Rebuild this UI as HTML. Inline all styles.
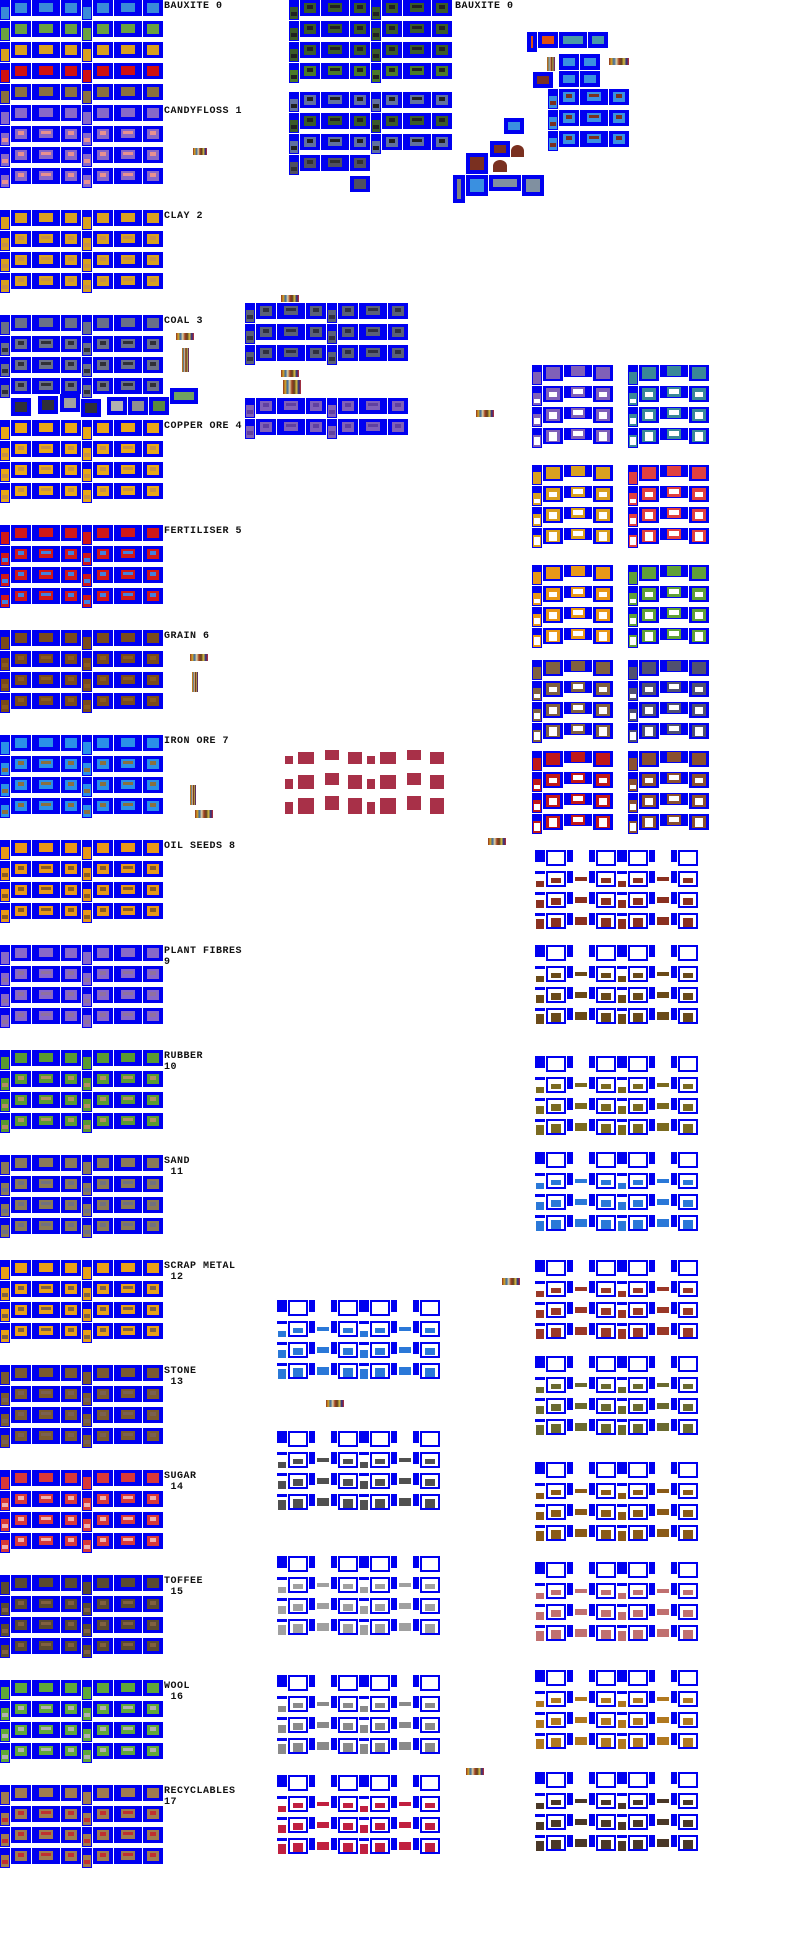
<!DOCTYPE html>
<html><head><meta charset="utf-8">
<style>
html,body{margin:0;padding:0;background:#fff;}
#sheet{position:relative;width:800px;height:1950px;overflow:hidden;background:#fff;}
.t{position:absolute;background:#0000f0;}
.c{position:absolute;}
.lbl{position:absolute;font-family:"Liberation Mono",monospace;font-size:10px;font-weight:bold;line-height:11px;color:#111;letter-spacing:0.5px;white-space:pre;}
</style></head>
<body>
<div id="sheet"></div>
<script>
// ---- data ----
const sectionNames = ["BAUXITE 0","CANDYFLOSS 1","CLAY 2","COAL 3","COPPER ORE 4","FERTILISER 5","GRAIN 6","IRON ORE 7","OIL SEEDS 8","PLANT FIBRES\n9","RUBBER\n10","SAND\n 11","SCRAP METAL\n 12","STONE\n 13","SUGAR\n 14","TOFFEE\n 15","WOOL\n 16","RECYCLABLES\n17"];
const sectionColors = ["#3a8ad8","#8868c8","#d8a020","#6a7088","#e8a818","#d01818","#7a4a1a","#2a90e8","#e89818","#8868c8","#5a9a30","#8a7a58","#e8a018","#7a5a30","#d83838","#5a4a30","#60a838","#a07c50"];
const sectionFill = ["#3a8ad8","#e89090","#c89040","#303038","#c89040","#4080e0","#8a5a20","#8a7040","#8a5a20","#9070a0","#b09060","#707080","#806040","#7a6050","#f0b0b0","#806040","#b0b0b0","#c03030"];
const bauxiteRowColors = ["#3a8ad8","#6aa040","#d8a020","#d01010","#8a7040"];
const upperRightColors = [["#8060b8","#3a8898"],["#d8a020","#e04040"],["#e89818","#60a038"],["#806040","#505070"],["#c01818","#8a5030"]];
const upperRightY = [365,465,565,660,751];
const lowerRightY = [850,945,1056,1152,1260,1356,1462,1562,1670,1772];
const lowerRightColors = ["#8a3020","#6a4a18","#7a6a20","#2a78d8","#9a3828","#6a6a30","#8a5a18","#c07070","#b07820","#4a3828"];
const midLowerY = [1300,1431,1556,1675,1775];
const midLowerColors = ["#2a78d8","#505050","#a0a0a0","#8a8a8a","#c02040"];

const S = document.getElementById('sheet');
function box(x,y,w,h,col,name){
  const d=document.createElement('div');
  d.className='t';
  d.style.cssText=`left:${x}px;top:${y}px;width:${w}px;height:${h}px;`+(col?`background:${col};`:'');
  
  
  S.appendChild(d);return d;
}
function inner(p,x,y,w,h,col){
  const d=document.createElement('div');
  d.className='c';
  d.style.cssText=`left:${x}px;top:${y}px;width:${w}px;height:${h}px;background:${col};`;
  p.appendChild(d);return d;
}
function wagonRow(x,y,col,fill,groups){
  for(let g=0;g<groups;g++){
    const o=x+g*82;
    let t=box(o,y,10,20,null,'wagon-thin');
    inner(t,1,7,8,12,col); inner(t,2,12,6,4,fill);
    t=box(o+11,y,20,16,null,'wagon-box');
    inner(t,4,3,12,10,col); inner(t,7,5,6,4,fill);
    t=box(o+32,y,28,16,null,'wagon-side');
    inner(t,7,3,14,9,col); inner(t,9,5,10,3,fill);
    t=box(o+61,y,20,16,null,'wagon-box');
    inner(t,4,3,12,10,col); inner(t,7,5,6,4,fill);
  }
}
function label(x,y,txt){
  const d=document.createElement('div');
  d.className='lbl';
  d.style.left=x+'px';d.style.top=y+'px';
  d.textContent=txt;
  
  
  S.appendChild(d);
}
function palette(x,y,w,h){
  const d=document.createElement('div');
  d.className='c';
  d.style.cssText=`left:${x}px;top:${y}px;width:${w}px;height:${h}px;background:linear-gradient(90deg,#8a3020,#d8a020,#3a6aa0,#e0d0a0,#a04020,#604020,#d8c040,#2a2a80,#c03030);`;
  
  
  S.appendChild(d);
}
for(let k=0;k<18;k++){
  const y0=k*105;
  const rows = k===0?5:4;
  for(let r=0;r<rows;r++){
    const col = k===0?bauxiteRowColors[r]:sectionColors[k];
    const fill = k===0?bauxiteRowColors[r]:(r===0?sectionColors[k]:sectionFill[k]);
    wagonRow(0,y0+r*21,col,fill,2);
  }
  label(164,y0+1,sectionNames[k]);
}
[[11,398,20,18,"#303038"],[38,396,20,18,"#303038"],[60,394,20,18,"#a0a0a0"],[81,399,20,18,"#303038"],[107,397,20,18,"#b0b0b0"],[128,397,20,18,"#909090"],[149,397,20,18,"#5a8a40"],[170,388,28,16,"#70a060"]].forEach(a=>{
  const t=box(a[0],a[1],a[2],a[3],null,'coal-variant');inner(t,4,4,a[2]-8,a[3]-8,a[4]);
});
palette(193,148,14,7);palette(176,333,18,7);palette(182,348,7,24);palette(190,654,18,7);palette(192,672,6,20);palette(195,810,18,8);palette(190,785,6,20);
palette(281,295,18,7);palette(281,370,18,7);palette(283,380,18,14);palette(476,410,18,7);palette(488,838,18,7);palette(502,1278,18,7);palette(326,1400,18,7);palette(466,1768,18,7);palette(609,58,20,7);palette(547,57,8,14);
const midBaux = ["#3a5a28","#3a5a28","#3a5a28","#4a7a28","#6070a0","#3a5a28","#6070a0"];
[0,21,42,63,92,113,134].forEach((y,i)=>wagonRow(289,y,midBaux[i],"#202020",2));
wagonRow(289,155,"#505060","#303030",1);
{const t=box(350,176,20,16,null,'wagon-box');inner(t,4,3,12,10,"#505060");}
label(455,1,"BAUXITE 0");
[[527,32,10,20,"#e05010"],[538,32,20,16,"#e05010"],[559,32,28,16,"#4a98a8"],[588,32,20,16,"#4a98a8"],[559,54,20,16,"#3a90e0"],[580,54,20,16,"#3a90e0"],[533,72,20,16,"#7a3020"],[559,71,20,16,"#3a90e0"],[580,71,20,16,"#3a90e0"],
 [504,118,20,16,"#3a90e0"],[490,141,20,16,"#7a3020"],[466,153,22,21,"#7a3020"],[453,175,12,28,"#808080"],[466,175,22,21,"#3a90e0"],[489,175,32,16,"#8090a0"],[522,175,22,21,"#8090a0"]].forEach(a=>{
  const t=box(a[0],a[1],a[2],a[3],null,'bauxite-extra');inner(t,4,4,a[2]-8,a[3]-8,a[4]);
});
[[511,145,13,12],[493,160,14,12]].forEach(a=>{const d=document.createElement('div');d.className='c';d.style.cssText=`left:${a[0]}px;top:${a[1]}px;width:${a[2]}px;height:${a[3]}px;background:#7a3020;border-radius:50% 50% 0 0;`;S.appendChild(d);});
[89,110,131].forEach(y=>wagonRow(548,y,"#3a90e0","#7a3020",1));
[303,324,345].forEach(y=>wagonRow(245,y,"#5a6078","#303040",2));
[398,419].forEach(y=>wagonRow(245,y,"#8060b8","#6040a0",2));
[752,773,794].forEach((y,r)=>{
  for(let g=0;g<2;g++){const o=285+g*82;
    [[0,4,8,8],[13,0,16,12],[40,-2,14,10],[63,0,14,12]].forEach(a=>{
      const d=document.createElement('div');d.className='c';
      d.style.cssText=`left:${o+a[0]}px;top:${y+a[1]+r*2}px;width:${a[2]}px;height:${a[3]+r*2}px;background:#a83048;`;
      S.appendChild(d);
    });
  }
});
function fillRow(x,y,col,whiteAmt){
  let t=box(x,y,10,20,null,'open-wagon-thin'); inner(t,1,7,8,12,col); if(whiteAmt) inner(t,2,9+(3-whiteAmt)*2,6,2+whiteAmt*2,"#fff");
  t=box(x+11,y,20,16,null,'open-wagon-box'); inner(t,3,2,14,12,col); if(whiteAmt) inner(t,6,4+(3-whiteAmt),8,3+whiteAmt*2,"#fff");
  t=box(x+32,y,28,12,null,'open-wagon-side'); inner(t,7,1,14,10,col); if(whiteAmt) inner(t,9,3,10,5,"#fff");
  t=box(x+61,y,20,16,null,'open-wagon-box'); inner(t,3,2,14,12,col); if(whiteAmt) inner(t,6,4+(3-whiteAmt),8,3+whiteAmt*2,"#fff");
}
upperRightY.forEach((y,i)=>{
  for(let r=0;r<4;r++){ fillRow(532,y+r*21,upperRightColors[i][0],r); fillRow(628,y+r*21,upperRightColors[i][1],r); }
});
function whiteRow(x,y,col,r){
  for(let g=0;g<2;g++){const o=x+g*82;
    box(o,y,10,r===0?12:3,null,'flat-thin');
    if(r>0){const d=document.createElement('div');d.className='c';d.style.cssText=`left:${o+1}px;top:${y+6+(3-r)*2}px;width:8px;height:${4+r*2}px;background:${col};`;S.appendChild(d);}
    let t=box(o+11,y,20,16,null,'flat-box'); inner(t,2,2,16,12,"#fff"); if(r>0) inner(t,5,5+(3-r),10,3+r*2,col);
    box(o+32,y,6,12,null,'flat-gap');
    if(r>0){const d=document.createElement('div');d.className='c';d.style.cssText=`left:${o+40}px;top:${y+4+(3-r)}px;width:12px;height:${2+r*2}px;background:${col};`;S.appendChild(d);}
    box(o+54,y,6,12,null,'flat-gap');
    t=box(o+61,y,20,16,null,'flat-box'); inner(t,2,2,16,12,"#fff"); if(r>0) inner(t,5,5+(3-r),10,3+r*2,col);
  }
}
lowerRightY.forEach((y,i)=>{for(let r=0;r<4;r++) whiteRow(535,y+r*21,lowerRightColors[i],r);});
midLowerY.forEach((y,i)=>{for(let r=0;r<4;r++) whiteRow(277,y+r*21,midLowerColors[i],r);});
</script>
</body></html>
